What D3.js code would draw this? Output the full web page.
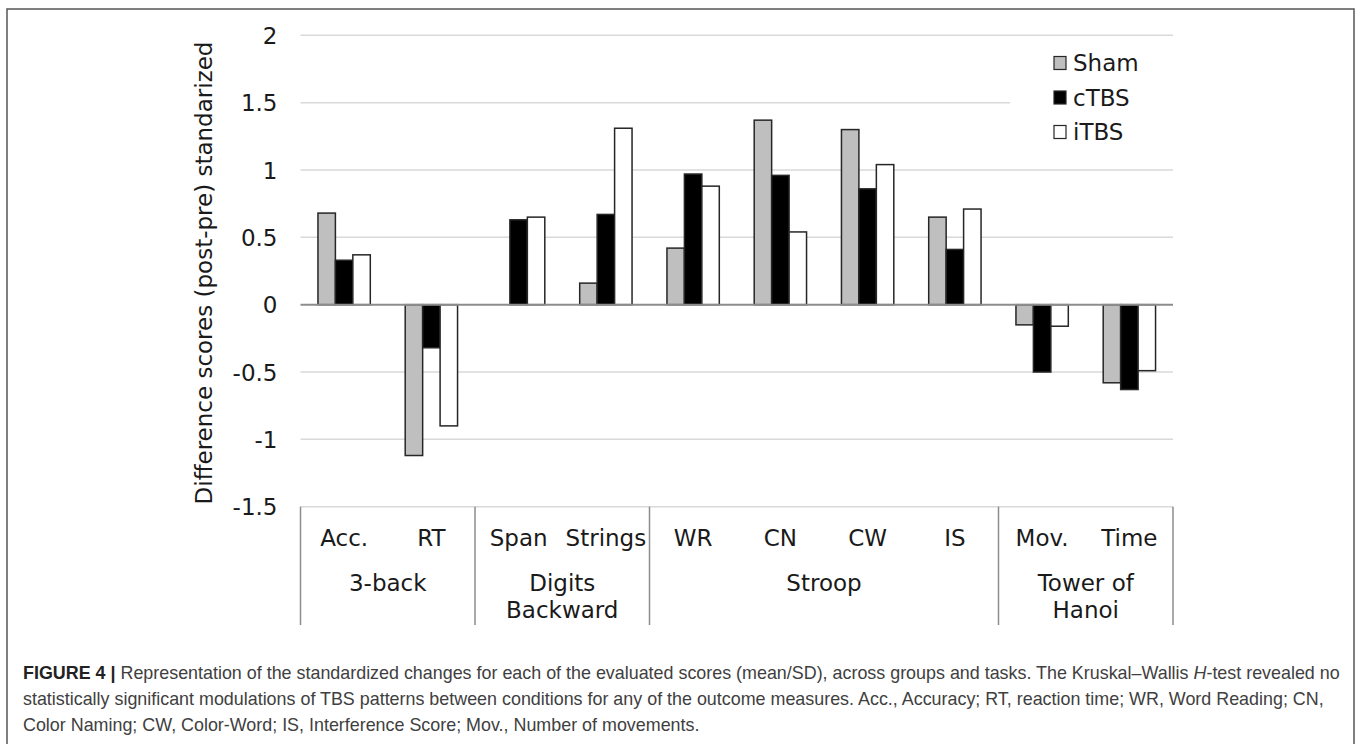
<!DOCTYPE html>
<html>
<head>
<meta charset="utf-8">
<script src="https://cdn.jsdelivr.net/npm/d3@7"></script>
<style>
  html, body { margin: 0; padding: 0; background: #fff; }
  svg { display: block; }
</style>
</head>
<body>
<svg id="chart" width="1357" height="744"></svg>
<script>
// ---- data ----
const categories = ["Acc.", "RT", "Span", "Strings", "WR", "CN", "CW", "IS", "Mov.", "Time"];
const groups = [
  { lines: ["3-back"], span: 2 },
  { lines: ["Digits", "Backward"], span: 2 },
  { lines: ["Stroop"], span: 4 },
  { lines: ["Tower of", "Hanoi"], span: 2 }
];
const seriesNames = ["Sham", "cTBS", "iTBS"];
const sham = [0.68, -1.12, 0, 0.16, 0.42, 1.37, 1.30, 0.65, -0.15, -0.58];
const ctbs = [0.33, -0.32, 0.63, 0.67, 0.97, 0.96, 0.86, 0.41, -0.50, -0.63];
const itbs = [0.37, -0.90, 0.65, 1.31, 0.88, 0.54, 1.04, 0.71, -0.16, -0.49];
const yTicks = [2, 1.5, 1, 0.5, 0, -0.5, -1, -1.5];
const yTitle = "Difference scores (post-pre) standarized";
const seriesColors = ["#bfbfbf", "#000000", "#ffffff"];

const svg = d3.select("#chart");
const FONT = "'DejaVu Sans', Verdana, sans-serif";

// frame
svg.append("path")
  .attr("d", "M7,744 L7,9 L1354,9 L1354,744")
  .attr("fill", "none").attr("stroke", "#555").attr("stroke-width", 1.5);

// scales
const pL = 300.5, pR = 1173, pT = 35.3, pB = 506.7;
const x = d3.scaleBand().domain(categories).range([pL, pR]).padding(0);
const xs = d3.scaleBand().domain(seriesNames).range([0, x.bandwidth()]).paddingInner(0).paddingOuter(1);
const y = d3.scaleLinear().domain([-1.5, 2]).range([pB, pT]);

// gridlines
svg.append("g").selectAll("line").data(yTicks.filter(d => d !== 0)).join("line")
  .attr("x1", pL).attr("x2", pR)
  .attr("y1", d => y(d)).attr("y2", d => y(d))
  .attr("stroke", "#d9d9d9").attr("stroke-width", 1.5);

// y axis labels via d3 axis
const yAxis = d3.axisLeft(y).tickValues(yTicks).tickSize(0).tickPadding(0)
  .tickFormat(d => String(d));
const yg = svg.append("g").attr("transform", `translate(${277.5},0)`).call(yAxis);
yg.select(".domain").remove();
yg.selectAll("text").attr("font-family", FONT).attr("font-size", 23).attr("fill", "#1a1a1a")
  .attr("dy", "0.35em");

// y title
svg.append("text")
  .attr("transform", `translate(204,273) rotate(-90)`)
  .attr("text-anchor", "middle").attr("dominant-baseline", "central")
  .attr("font-family", FONT).attr("font-size", 23).attr("fill", "#1a1a1a")
  .text(yTitle);

// bars
const seriesData = [sham, ctbs, itbs];
seriesData.forEach((vals, si) => {
  svg.append("g").selectAll("rect")
    .data(vals.map((v, i) => ({ c: categories[i], v })).filter(d => d.v !== 0))
    .join("rect")
    .attr("x", d => x(d.c) + xs(seriesNames[si]))
    .attr("width", xs.bandwidth())
    .attr("y", d => Math.min(y(d.v), y(0)))
    .attr("height", d => Math.abs(y(d.v) - y(0)))
    .attr("fill", seriesColors[si])
    .attr("stroke", "#262626").attr("stroke-width", 1.5);
});

// zero line
svg.append("line")
  .attr("x1", pL).attr("x2", pR).attr("y1", y(0)).attr("y2", y(0))
  .attr("stroke", "#8c8c8c").attr("stroke-width", 2);

// category axis: separators
let acc = 0;
const seps = [categories[0]];
groups.forEach(g => { acc += g.span; seps.push(acc < categories.length ? categories[acc] : null); });
svg.append("g").selectAll("line").data(seps).join("line")
  .attr("x1", d => d ? x(d) : pR).attr("x2", d => d ? x(d) : pR)
  .attr("y1", pB).attr("y2", 625)
  .attr("stroke", "#8c8c8c").attr("stroke-width", 1.5);

// category labels
const xAxis = d3.axisBottom(x).tickSize(0).tickPadding(0);
const xg = svg.append("g").attr("transform", `translate(0,${pB})`).call(xAxis);
xg.select(".domain").remove();
xg.selectAll("text").attr("font-family", FONT).attr("font-size", 23).attr("fill", "#1a1a1a")
  .attr("y", 39).attr("dy", 0);

// group labels
acc = 0;
groups.forEach(g => {
  const c0 = categories[acc], c1 = categories[acc + g.span - 1];
  const cx = (x(c0) + x(c1) + x.bandwidth()) / 2;
  const t = svg.append("text").attr("text-anchor", "middle")
    .attr("font-family", FONT).attr("font-size", 23).attr("fill", "#1a1a1a");
  g.lines.forEach((ln, i) => {
    t.append("tspan").attr("x", cx).attr("y", 590.7 + i * 27).text(ln);
  });
  acc += g.span;
});

// legend
svg.append("rect").attr("x", 1010).attr("y", 45).attr("width", 170).attr("height", 110).attr("fill", "#fff");
const lg = svg.append("g");
seriesNames.forEach((s, i) => {
  const cy = 63 + i * 34.5;
  lg.append("rect").attr("x", 1054).attr("y", cy - 6.5).attr("width", 12).attr("height", 13)
    .attr("fill", seriesColors[i]).attr("stroke", "#262626").attr("stroke-width", 1.2);
  lg.append("text").attr("x", 1073).attr("y", cy).attr("dominant-baseline", "central")
    .attr("font-family", FONT).attr("font-size", 23).attr("fill", "#1a1a1a").text(s);
});

// caption
const CAP = "'Liberation Sans', Arial, Helvetica, sans-serif";
const cap = svg.append("g").attr("font-family", CAP).attr("font-size", 17.9).attr("fill", "#404040");
const l1 = cap.append("text").attr("x", 23).attr("y", 679);
l1.append("tspan").attr("font-weight", "bold").attr("fill", "#222").text("FIGURE 4 | ");
l1.append("tspan").text("Representation of the standardized changes for each of the evaluated scores (mean/SD), across groups and tasks. The Kruskal–Wallis ");
l1.append("tspan").attr("font-style", "italic").text("H");
l1.append("tspan").text("-test revealed no");
cap.append("text").attr("x", 23).attr("y", 705)
  .text("statistically significant modulations of TBS patterns between conditions for any of the outcome measures. Acc., Accuracy; RT, reaction time; WR, Word Reading; CN,");
cap.append("text").attr("x", 23).attr("y", 731)
  .text("Color Naming; CW, Color-Word; IS, Interference Score; Mov., Number of movements.");
</script>
</body>
</html>
